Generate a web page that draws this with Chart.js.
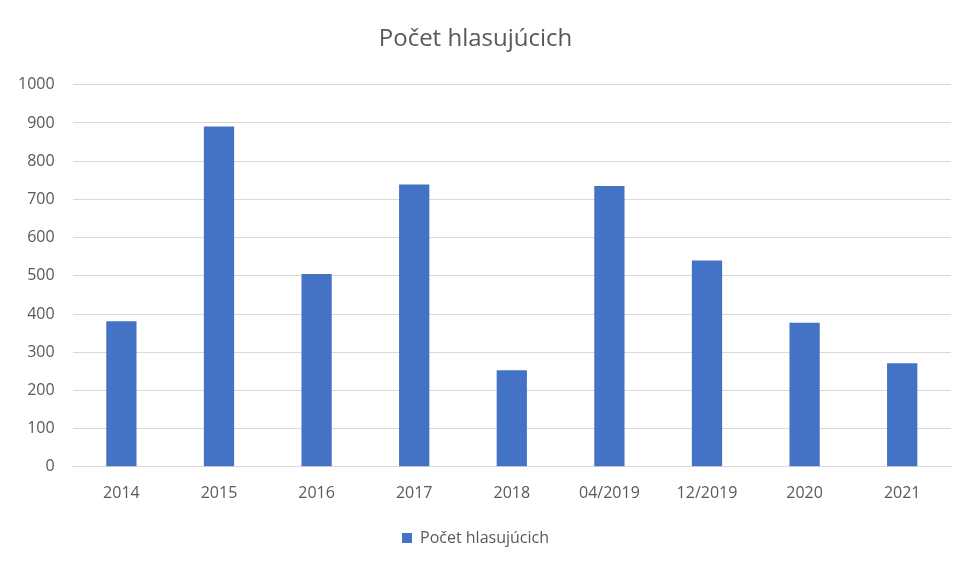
<!DOCTYPE html>
<html>
<head>
<meta charset="utf-8">
<script src="https://cdn.jsdelivr.net/npm/chart.js@4"></script>
<style>
html,body{margin:0;padding:0;background:#fff;}
#wrap{width:969px;height:570px;}
</style>
</head>
<body>
<div id="wrap"><canvas id="myChart" width="969" height="570"></canvas></div>
<script>
// data
const categories=["2014","2015","2016","2017","2018","04/2019","12/2019","2020","2021"];
const voters=[381,891,505,739,253,735,540,377,271];
const seriesName="Počet hlasujúcich";

const font="'Open Sans', 'Noto Sans', sans-serif";
const grey="#595959";

let ctx=document.getElementById("myChart").getContext("2d");

let barChart=new Chart(ctx,{
    type:"bar",
    data:{
        labels:categories,
        datasets:[{
            label:seriesName,
            data:voters,
            backgroundColor:"#4472C4",
            barPercentage:0.31,
            categoryPercentage:1
        }]
    },
    options:{
        responsive:false,
        animation:false,
        devicePixelRatio:1,
        layout:{padding:{left:0,right:18,top:17,bottom:14}},
        plugins:{
            title:{
                display:true,
                text:seriesName,
                color:grey,
                font:{family:font,size:24,weight:"normal"},
                padding:{top:8,bottom:31}
            },
            legend:{
                position:"bottom",
                labels:{
                    color:grey,
                    font:{family:font,size:16},
                    boxWidth:10,
                    boxHeight:10,
                    padding:10
                }
            },
            tooltip:{enabled:false}
        },
        scales:{
            x:{
                grid:{display:false,drawTicks:false},
                border:{color:"#d9d9d9",width:1},
                ticks:{color:grey,font:{family:font,size:16},padding:17}
            },
            y:{
                min:0,
                max:1000,
                ticks:{stepSize:100,color:grey,font:{family:font,size:16},padding:18,
                    callback:(v)=>String(v)},
                grid:{color:"#d9d9d9",drawTicks:false},
                border:{display:false}
            }
        }
    }
})
</script>
</body>
</html>
